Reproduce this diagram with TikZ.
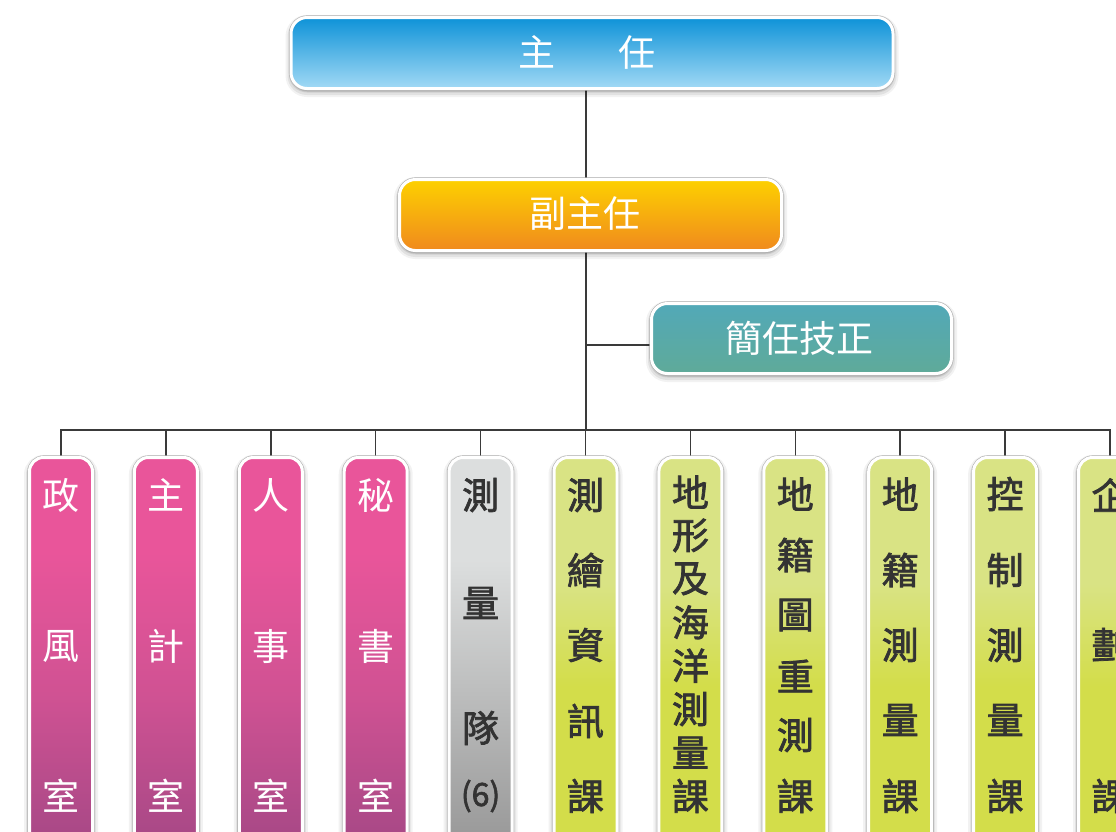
\documentclass[tikz,border=0pt]{standalone}
\usepackage{fontspec}
\newfontfamily\cjk{Noto Sans CJK TC}
\newfontfamily\cjkd[FakeBold=2]{Noto Sans CJK TC}
\definecolor{linecol}{HTML}{3A3A3A}
\definecolor{blueT}{HTML}{0E93D8}
\definecolor{blueB}{HTML}{A2D9F5}
\definecolor{oranT}{HTML}{FDD000}
\definecolor{oranB}{HTML}{F08A1E}
\definecolor{tealT}{HTML}{52A9B8}
\definecolor{tealB}{HTML}{5FAA99}
\definecolor{pkT}{HTML}{E9559A}
\definecolor{pkM}{HTML}{D05293}
\definecolor{pkB}{HTML}{AA4987}
\definecolor{gyT}{HTML}{DCDEDE}
\definecolor{gyB}{HTML}{9B9B9B}
\definecolor{gnT}{HTML}{D9E384}
\definecolor{gnB}{HTML}{D3DD4A}
\definecolor{darktext}{HTML}{333333}
\pgfdeclareverticalshading{pinkcol}{100bp}{color(0bp)=(pkB); color(27.5bp)=(pkB); color(45bp)=(pkM); color(63bp)=(pkT); color(100bp)=(pkT)}
\pgfdeclareverticalshading{graycol}{100bp}{color(0bp)=(gyB); color(27.5bp)=(gyB); color(62bp)=(gyT); color(100bp)=(gyT)}
\pgfdeclareverticalshading{greencol}{100bp}{color(0bp)=(gnB); color(46bp)=(gnB); color(59bp)=(gnT); color(100bp)=(gnT)}
\pgfdeclarelayer{bg}
\pgfsetlayers{bg,main}
\tikzset{
  halo/.style={
    preaction={draw=black, fill=black, opacity=0.05, line width=11pt, transform canvas={yshift=-3pt}},
    preaction={draw=black, fill=black, opacity=0.07, line width=7pt, transform canvas={yshift=-3pt}},
    preaction={draw=black, fill=black, opacity=0.09, line width=4pt, transform canvas={yshift=-2pt}},
    preaction={draw=black!30, line width=4.2pt}},
  headbox/.style={halo, draw=white, line width=3pt, rounded corners=16pt, inner sep=0pt},
  colbox/.style={halo, draw=white, line width=3pt, rounded corners=14pt, inner sep=0pt,
    minimum width=63pt, minimum height=394pt},
  headtext/.style={font=\cjk\fontsize{37}{40}\selectfont, text=white, inner sep=0pt},
  ctext/.style={font=\cjk\fontsize{37}{40}\selectfont, inner sep=0pt},
  dtext/.style={font=\cjkd\fontsize{37}{40}\selectfont, inner sep=0pt, text=darktext},
  conn/.style={draw=linecol, line width=1.5pt}
}
\newcommand\colchars[3]{%
  \foreach \ch/\yy [count=\k] in {#3} {\node[#2] (t#1-\k) at (c#1.center |- 0,\yy) {\ch};}}
\begin{document}
\begin{tikzpicture}[x=1pt,y=-1pt]
\useasboundingbox (0,0) rectangle (1116,831);
\clip (0,0) rectangle (1116,831);
% head boxes
\node[headbox, top color=blueT, bottom color=blueB, minimum width=602pt, minimum height=71pt] (zr) at (592,53) {};
\node[headtext] (zrt) at (587,52) {主\hspace{63pt}任};
\node[headbox, top color=oranT, bottom color=oranB, minimum width=382pt, minimum height=71pt] (fzr) at (590.5,215) {};
\node[headtext] (fzrt) at (585,214) {副主任};
\node[headbox, top color=tealT, bottom color=tealB, minimum width=300pt, minimum height=70pt] (jz) at (801.5,338.5) {};
\node[headtext] (jzt) at (799,338) {簡任技正};
% columns
\foreach \i in {0,...,10} {
  \pgfmathsetmacro{\cx}{61+104.9*\i}
  \ifnum\i<4 \def\sh{pinkcol}\else\ifnum\i=4 \def\sh{graycol}\else\def\sh{greencol}\fi\fi
  \node[colbox, shading=\sh] (c\i) at (\cx,654.5) {};
}
\colchars{0}{ctext,text=white}{政/495,風/646,室/796}
\colchars{1}{ctext,text=white}{主/495,計/646,室/796}
\colchars{2}{ctext,text=white}{人/495,事/646,室/796}
\colchars{3}{ctext,text=white}{秘/495,書/646,室/796}
\colchars{4}{dtext}{測/495,量/603,隊/728}
\node[dtext, font=\cjkd\fontsize{32}{36}\selectfont] (t4-4) at (c4.center |- 0,796) {(6)};
\colchars{5}{dtext}{測/495,繪/570,資/645,訊/721,課/796}
\colchars{6}{dtext}{地/492,形/535.4,及/578.9,海/622.3,洋/665.7,測/709.1,量/752.6,課/796}
\colchars{7}{dtext}{地/494,籍/555,圖/615,重/676,測/735,課/796}
\colchars{8}{dtext}{地/494,籍/570,測/645,量/720,課/796}
\colchars{9}{dtext}{控/494,制/570,測/645,量/720,課/796}
\colchars{10}{dtext}{企/495,劃/645,課/796}
% connectors
\coordinate (bus) at (586,430);
\begin{pgfonlayer}{bg}
\draw[conn] (zr.south -| bus) -- (fzr.north -| bus);
\draw[conn] (fzr.south -| bus) -- (bus);
\draw[conn] (bus |- 0,345) -- (jz.west |- 0,345);
\draw[conn] (c0.north) -- (c0.north |- bus) -- (c10.north |- bus) -- (c10.north);
\foreach \i in {1,...,9} { \draw[conn] (c\i.north |- bus) -- (c\i.north); }
\end{pgfonlayer}
\end{tikzpicture}
\end{document}
